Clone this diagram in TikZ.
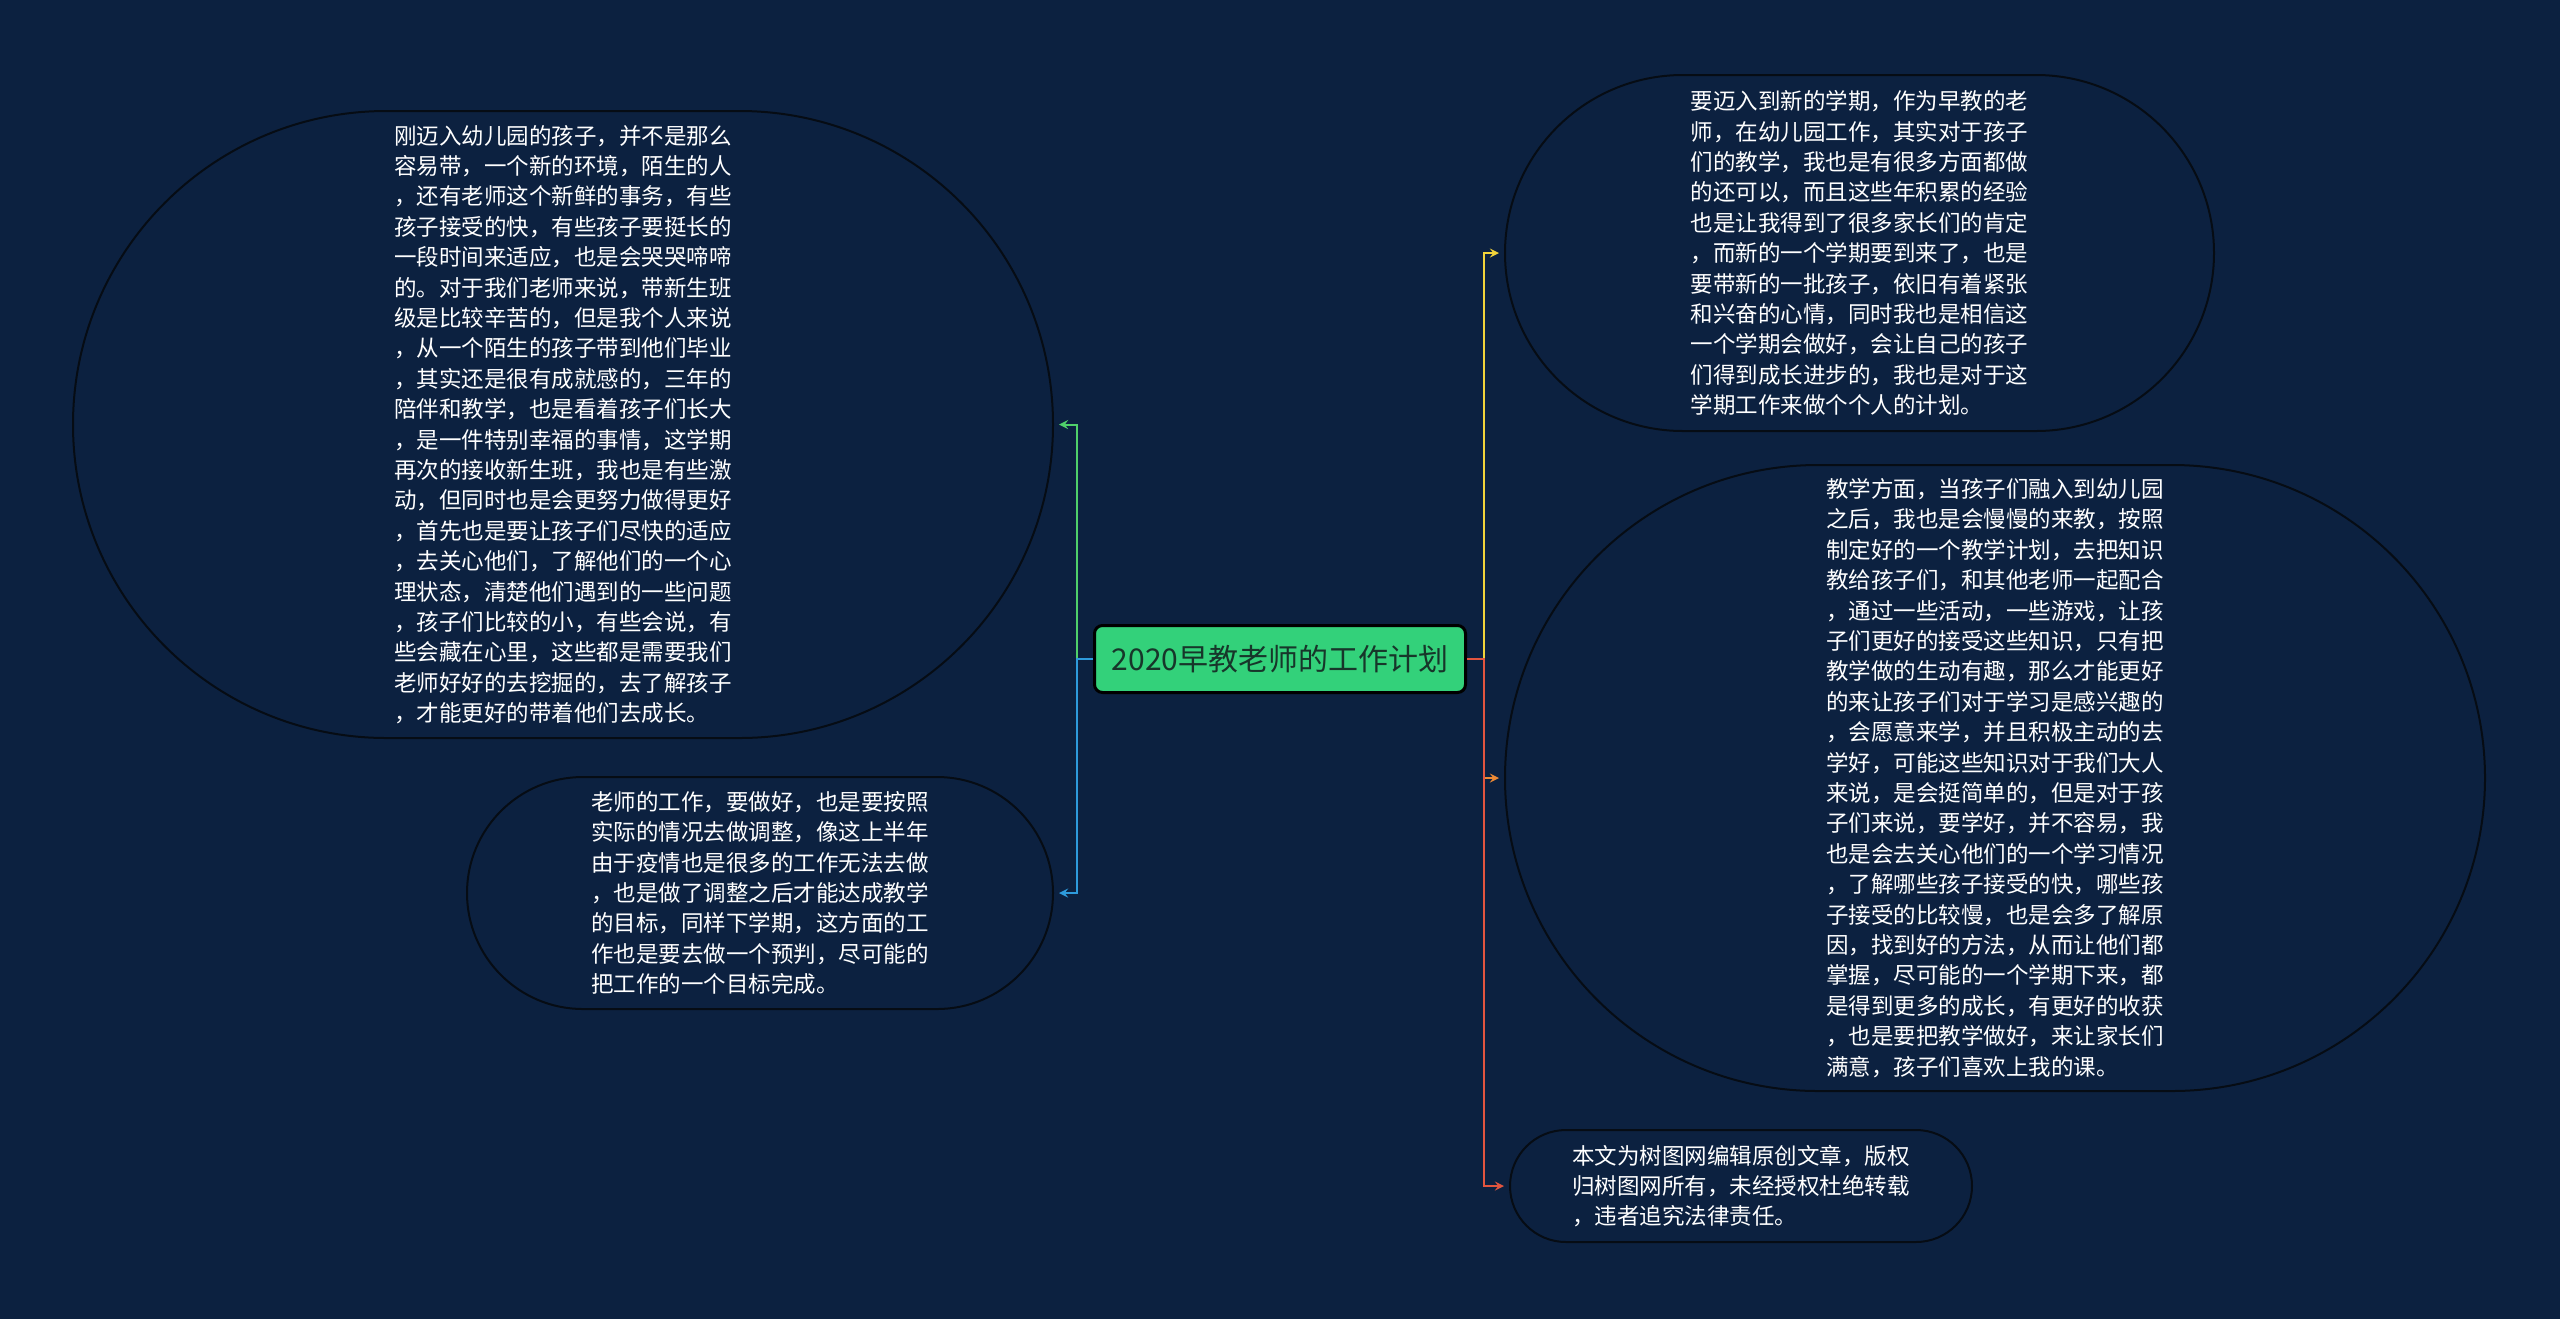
\documentclass[tikz,border=0pt]{standalone}
\usepackage{fontspec}
\setmainfont{Noto Sans CJK SC}
\usetikzlibrary{shapes.misc}
\definecolor{bgnavy}{HTML}{0C2140}
\definecolor{rimdark}{HTML}{060C14}
\definecolor{rootgreen}{HTML}{33D17A}
\definecolor{roottext}{HTML}{17362A}
\definecolor{brgreen}{HTML}{4FD06A}
\definecolor{brblue}{HTML}{2E9BDC}
\definecolor{bryellow}{HTML}{F2D33A}
\definecolor{brorange}{HTML}{EE8A35}
\definecolor{brred}{HTML}{E2553F}
\tikzset{
  bubble/.style={rounded rectangle, draw=rimdark, line width=1pt, fill=bgnavy,
    text=white, align=left, inner sep=0pt,
    font=\fontsize{11.25}{15.2}\selectfont},
  rootbox/.style={rectangle, rounded corners=4pt, draw=black, line width=1.5pt,
    fill=rootgreen, text=roottext, inner sep=0pt,
    font=\fontsize{15}{18}\selectfont},
  branch/.style={->, line width=1pt, shorten >=2.5pt}
}
\begin{document}
\begin{tikzpicture}[>=stealth, x=0.5pt, y=-0.5pt]
				% ------------------ 背景 ------------------
				\fill[bgnavy] (0,0) rectangle (2560,1319);
				\useasboundingbox (0,0) rectangle (2560,1319);
				
				% ------------------ 中心主题 ------------------
				\node[rootbox, minimum width=185.5pt, minimum height=33.5pt] (root) at (1280,659) {2020早教老师的工作计划};
				
				% ------------------ 左侧分支 ------------------
				\node[bubble, minimum width=490pt, minimum height=313.5pt] (newkids) at (563,424.5) {刚迈入幼儿园的孩子，并不是那么\\容易带，一个新的环境，陌生的人\\，还有老师这个新鲜的事务，有些\\孩子接受的快，有些孩子要挺长的\\一段时间来适应，也是会哭哭啼啼\\的。对于我们老师来说，带新生班\\级是比较辛苦的，但是我个人来说\\，从一个陌生的孩子带到他们毕业\\，其实还是很有成就感的，三年的\\陪伴和教学，也是看着孩子们长大\\，是一件特别幸福的事情，这学期\\再次的接收新生班，我也是有些激\\动，但同时也是会更努力做得更好\\，首先也是要让孩子们尽快的适应\\，去关心他们，了解他们的一个心\\理状态，清楚他们遇到的一些问题\\，孩子们比较的小，有些会说，有\\些会藏在心里，这些都是需要我们\\老师好好的去挖掘的，去了解孩子\\，才能更好的带着他们去成长。};
				\node[bubble, minimum width=293pt, minimum height=116pt] (adjust) at (760,893) {老师的工作，要做好，也是要按照\\实际的情况去做调整，像这上半年\\由于疫情也是很多的工作无法去做\\，也是做了调整之后才能达成教学\\的目标，同样下学期，这方面的工\\作也是要去做一个预判，尽可能的\\把工作的一个目标完成。};
				
				% ------------------ 右侧分支 ------------------
				\node[bubble, minimum width=354.5pt, minimum height=178pt] (semester) at (1859.5,253) {要迈入到新的学期，作为早教的老\\师，在幼儿园工作，其实对于孩子\\们的教学，我也是有很多方面都做\\的还可以，而且这些年积累的经验\\也是让我得到了很多家长们的肯定\\，而新的一个学期要到来了，也是\\要带新的一批孩子，依旧有着紧张\\和兴奋的心情，同时我也是相信这\\一个学期会做好，会让自己的孩子\\们得到成长进步的，我也是对于这\\学期工作来做个个人的计划。};
				\node[bubble, minimum width=490pt, minimum height=313pt] (teaching) at (1995,778) {教学方面，当孩子们融入到幼儿园\\之后，我也是会慢慢的来教，按照\\制定好的一个教学计划，去把知识\\教给孩子们，和其他老师一起配合\\，通过一些活动，一些游戏，让孩\\子们更好的接受这些知识，只有把\\教学做的生动有趣，那么才能更好\\的来让孩子们对于学习是感兴趣的\\，会愿意来学，并且积极主动的去\\学好，可能这些知识对于我们大人\\来说，是会挺简单的，但是对于孩\\子们来说，要学好，并不容易，我\\也是会去关心他们的一个学习情况\\，了解哪些孩子接受的快，哪些孩\\子接受的比较慢，也是会多了解原\\因，找到好的方法，从而让他们都\\掌握，尽可能的一个学期下来，都\\是得到更多的成长，有更好的收获\\，也是要把教学做好，来让家长们\\满意，孩子们喜欢上我的课。};
				\node[bubble, minimum width=231pt, minimum height=56pt] (notice) at (1741,1186) {本文为树图网编辑原创文章，版权\\归树图网所有，未经授权杜绝转载\\，违者追究法律责任。};
				
				% ------------------ 连线 ------------------
				\coordinate (lj) at ([xshift=-8pt]root.west);
				\coordinate (rj) at ([xshift=8.5pt]root.east);
				\draw[branch, brgreen] (lj) |- (newkids.east);
				\draw[branch, brblue] (root.west) -- (lj) |- (adjust.east);
				\draw[branch, bryellow] (rj) |- (semester.west);
				\draw[branch, brorange] (rj) |- (teaching.west);
				\draw[branch, brred] (root.east) -- (rj) |- (notice.west);
			\end{tikzpicture}
\end{document}
